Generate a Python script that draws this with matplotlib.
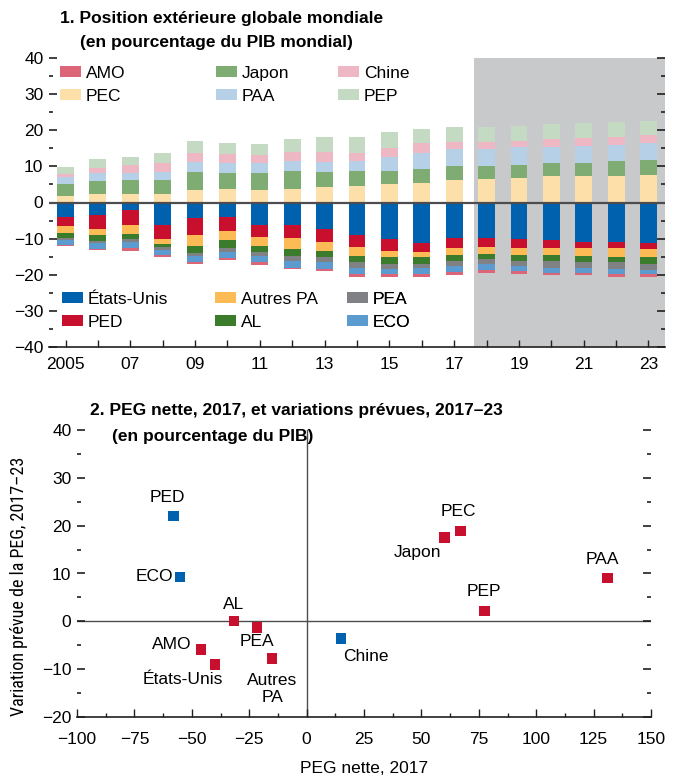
import matplotlib
matplotlib.use('Agg')
import matplotlib.pyplot as plt
import numpy as np
from matplotlib.patches import Patch
from matplotlib import font_manager

plt.rcParams['font.family'] = ['Liberation Sans', 'DejaVu Sans']
plt.rcParams['axes.unicode_minus'] = True

_avail = {f.name for f in font_manager.fontManager.ttflist}
COND = next((f for f in ['Liberation Sans Narrow', 'Roboto Condensed'] if f in _avail), None)

# ---------------- Data: panel 1 ----------------
years = list(range(2005, 2024))
year_labels = ['2005', '07', '09', '11', '13', '15', '17', '19', '21', '23']

# positive side (bottom to top)
pec   = [1.8, 2.4, 2.4, 2.4, 3.5, 3.8, 3.5, 3.8, 4.3, 4.7, 5.0, 5.5, 6.3, 6.6, 6.9, 7.2, 7.4, 7.4, 7.7]
japon = [3.3, 3.6, 3.9, 3.9, 5.0, 4.4, 4.7, 5.0, 4.1, 3.9, 3.6, 3.9, 3.9, 3.6, 3.6, 3.6, 3.6, 4.1, 4.1]
paa   = [1.9, 2.2, 1.9, 2.2, 2.8, 2.8, 2.8, 2.8, 2.8, 3.0, 4.0, 4.4, 4.5, 4.5, 4.8, 4.7, 4.7, 4.4, 4.7]
chine = [0.9, 1.4, 2.2, 2.5, 2.5, 2.5, 2.2, 2.5, 2.8, 2.0, 2.4, 2.6, 2.1, 2.1, 1.8, 2.2, 2.2, 2.2, 2.2]
pep   = [1.9, 2.5, 2.2, 2.8, 3.1, 3.0, 3.0, 3.6, 4.1, 4.6, 4.4, 4.0, 4.1, 4.1, 4.1, 4.1, 4.1, 4.1, 3.9]

# negative side (top to bottom)
etats_unis = [-4.0, -3.5, -2.2, -6.3, -4.4, -3.9, -6.3, -6.1, -7.2, -8.9, -10.2, -11.1, -9.7, -9.9, -10.2, -10.5, -10.8, -11.0, -11.3]
ped        = [-2.6, -3.7, -4.1, -3.9, -4.7, -3.9, -3.3, -3.6, -3.6, -3.5, -3.3, -2.7, -3.0, -2.5, -2.5, -2.2, -1.9, -1.7, -1.7]
autres_pa  = [-1.8, -1.7, -2.5, -1.4, -3.0, -2.5, -2.5, -3.3, -2.5, -2.5, -1.7, -1.4, -1.7, -1.9, -1.9, -1.9, -2.2, -2.5, -2.2]
al         = [-1.3, -1.7, -1.4, -0.8, -1.9, -2.2, -1.7, -1.9, -1.9, -1.7, -1.7, -1.9, -1.7, -1.4, -1.7, -1.7, -1.7, -1.4, -1.7]
pea        = [-0.8, -0.6, -0.8, -0.8, -0.8, -1.1, -1.1, -1.4, -1.4, -1.4, -1.4, -1.1, -1.4, -1.4, -1.4, -1.7, -1.4, -1.7, -1.7]
eco        = [-1.2, -1.7, -1.7, -1.4, -1.7, -1.7, -1.7, -1.9, -1.7, -1.7, -1.4, -1.7, -1.7, -1.7, -1.4, -1.4, -1.4, -1.4, -1.1]
amo        = [-0.3, -0.3, -0.6, -0.6, -0.6, -0.6, -0.6, -0.3, -0.6, -0.8, -0.8, -0.6, -0.8, -0.6, -0.8, -0.6, -0.8, -0.8, -0.8]

# ---------------- Data: panel 2 ----------------
regions   = ['PED', 'ECO', 'AL', 'PEA', 'AMO', 'États-Unis', 'Autres\nPA', 'Chine', 'Japon', 'PEC', 'PAA', 'PEP']
peg_2017  = [-58.0, -55.0, -31.5, -21.5, -46.0, -40.0, -15.0, 15.0, 60.0, 67.0, 131.0, 77.5]
variation = [22.0, 9.3, 0.0, -1.3, -5.9, -9.0, -7.8, -3.6, 17.5, 18.9, 9.1, 2.2]
creditor  = [False, False, True, True, True, True, True, False, True, True, True, True]

# ---------------- Colours ----------------
C = {
    'États-Unis': '#0061AE', 'PED': '#C8102E', 'Autres PA': '#FDBB55', 'AL': '#3A7B2C',
    'PEA': '#808184', 'ECO': '#5B9BD0', 'AMO': '#DC6677',
    'PEC': '#FDDFAA', 'Japon': '#7FAC72', 'PAA': '#B5D0E7', 'Chine': '#EDB8C3', 'PEP': '#C4DAC3',
}
BLUE = '#0061AE'
RED = '#C8102E'

W, H = 683, 779
fig = plt.figure(figsize=(W / 100, H / 100), dpi=100)

def fx(x):
    return x / W

def fy(y):
    return 1 - y / H

FS = 12.5

# ================= Panel 1 =================
ax1 = fig.add_axes([fx(49), fy(347), fx(665) - fx(49), fy(58) - fy(347)])
x = np.array(years)
bw = 0.52

pos_series = [('PEC', pec), ('Japon', japon), ('PAA', paa), ('Chine', chine), ('PEP', pep)]
neg_series = [('États-Unis', etats_unis), ('PED', ped), ('Autres PA', autres_pa), ('AL', al),
              ('PEA', pea), ('ECO', eco), ('AMO', amo)]

bottom = np.zeros(len(years))
for name, vals in pos_series:
    v = np.array(vals)
    ax1.bar(x, v, bw, bottom=bottom, color=C[name], linewidth=0, zorder=2)
    bottom = bottom + v
bottom = np.zeros(len(years))
for name, vals in neg_series:
    v = np.array(vals)
    ax1.bar(x, v, bw, bottom=bottom, color=C[name], linewidth=0, zorder=2)
    bottom = bottom + v

ax1.axvspan(2017.61, 2023.6, color='#C8C9CB', linewidth=0, zorder=0)
ax1.axhline(0, color='#4D4D4F', linewidth=1.6, zorder=3)
ax1.set_xlim(2004.49, 2023.51)
ax1.set_ylim(-40, 40)
ax1.set_yticks(np.arange(-40, 41, 10))
ax1.set_yticks(np.arange(-35, 40, 10), minor=True)
ax1.set_xticks(years, minor=True)
ax1.set_xticks(years[::2])
ax1.set_xticklabels(year_labels)
for s in ['left', 'top', 'right']:
    ax1.spines[s].set_visible(False)
ax1.spines['bottom'].set_color('#231F20')
ax1.spines['bottom'].set_linewidth(1.2)
ax1.tick_params(axis='y', which='major', direction='in', length=6, width=1.2, color='#231F20',
                labelsize=FS, pad=4, left=True, right=True)
ax1.tick_params(axis='y', which='minor', direction='in', length=3, width=1.2, color='#231F20',
                left=True, right=True)
ax1.tick_params(axis='x', which='both', direction='in', length=5, width=1.0, color='#231F20',
                labelsize=FS, pad=7)

def make_legend(ax, names, xpx, ypx):
    handles = [Patch(facecolor=C[n], edgecolor='none') for n in names]
    leg = ax.legend(handles, names, loc='upper left', bbox_to_anchor=(fx(xpx), fy(ypx)),
                    bbox_transform=fig.transFigure, frameon=False, fontsize=FS,
                    handlelength=1.2, handleheight=0.6, handletextpad=0.3,
                    labelspacing=0.45, borderpad=0, borderaxespad=0)
    ax.add_artist(leg)
    return leg

make_legend(ax1, ['AMO', 'PEC'], 60, 66)
make_legend(ax1, ['Japon', 'PAA'], 216, 66)
make_legend(ax1, ['Chine', 'PEP'], 338, 66)
make_legend(ax1, ['États-Unis', 'PED'], 62, 292)
make_legend(ax1, ['Autres PA', 'AL'], 215, 292)
make_legend(ax1, ['PEA', 'ECO'], 347, 292)

fig.text(fx(60), fy(18), '1. Position extérieure globale mondiale', fontsize=FS, fontweight='bold',
         ha='left', va='center')
fig.text(fx(80), fy(43), '(en pourcentage du PIB mondial)', fontsize=FS, fontweight='bold',
         ha='left', va='center')

# ================= Panel 2 =================
ax2 = fig.add_axes([fx(77), fy(717), fx(651) - fx(77), fy(430) - fy(717)])
colors = [RED if c else BLUE for c in creditor]
ax2.scatter(peg_2017, variation, s=55, marker='s', c=colors, linewidths=0, zorder=3)
ax2.axhline(0, color='#4D4D4F', linewidth=1.0, zorder=1)
ax2.axvline(0, color='#4D4D4F', linewidth=1.0, zorder=1)
ax2.set_xlim(-100, 150)
ax2.set_ylim(-20, 40)
ax2.set_xticks(np.arange(-100, 151, 25))
ax2.set_xticks(np.arange(-87.5, 150, 25), minor=True)
ax2.set_yticks(np.arange(-20, 41, 10))
ax2.set_yticks(np.arange(-15, 40, 10), minor=True)
for s in ['left', 'top', 'right']:
    ax2.spines[s].set_visible(False)
ax2.spines['bottom'].set_color('#231F20')
ax2.spines['bottom'].set_linewidth(1.2)
ax2.tick_params(axis='y', which='major', direction='in', length=6, width=1.2, color='#231F20',
                labelsize=FS, pad=4, left=True, right=True)
ax2.tick_params(axis='y', which='minor', direction='in', length=3, width=1.2, color='#231F20',
                left=True, right=True)
ax2.tick_params(axis='x', which='major', direction='in', length=6, width=1.0, color='#231F20',
                labelsize=FS, pad=11)
ax2.tick_params(axis='x', which='minor', direction='in', length=3, width=1.0, color='#231F20')

offsets = {
    'PED': (-6, 19, 'center'), 'ECO': (-7, 0, 'right'), 'AL': (-1, 17, 'center'),
    'PEA': (0, -14, 'center'), 'AMO': (-10, 5, 'right'), 'États-Unis': (-32, -15, 'center'),
    'Autres\nPA': (0, -30, 'center'), 'Chine': (2, -18, 'left'), 'Japon': (-27, -15, 'center'),
    'PEC': (-2, 19, 'center'), 'PAA': (-5, 18, 'center'), 'PEP': (-1, 19, 'center'),
}
for name, xv, yv in zip(regions, peg_2017, variation):
    dx, dy, ha = offsets[name]
    ax2.annotate(name, (xv, yv), xytext=(dx, dy), textcoords='offset pixels', ha=ha, va='center',
                 fontsize=FS, linespacing=1.15)

ax2.set_xlabel('PEG nette, 2017', fontsize=FS, labelpad=10)
if COND:
    ax2.set_ylabel('Variation prévue de la PEG, 2017–23', fontsize=13,
                   family=[COND, 'DejaVu Sans'])
else:
    ax2.set_ylabel('Variation prévue de la PEG, 2017–23', fontsize=9.8)
ax2.yaxis.set_label_coords((28 - 77) / 574, (717 - 586) / 287)

fig.text(fx(90), fy(410), '2. PEG nette, 2017, et variations prévues, 2017–23', fontsize=FS,
         fontweight='bold', ha='left', va='center')
fig.text(fx(112), fy(436), '(en pourcentage du PIB)', fontsize=FS, fontweight='bold',
         ha='left', va='center')

fig.savefig('out.png', dpi=100)
